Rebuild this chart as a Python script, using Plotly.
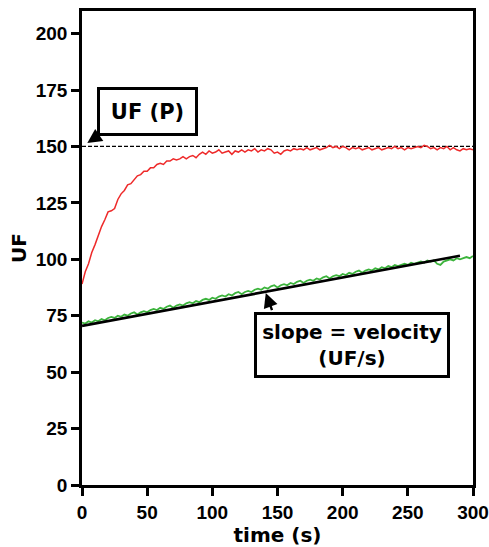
import plotly.graph_objects as go

# sample times (s)
time_s = [i * 2.5 for i in range(121)]

uf_red = [
    89.0, 94.5, 98.0, 103.0, 106.5, 111.0, 114.5, 117.5, 121.0, 121.5,
    122.5, 126.5, 129.0, 130.5, 133.0, 133.5, 135.5, 137.0, 137.5, 139.0,
    139.0, 140.5, 140.5, 142.0, 142.5, 142.0, 143.5, 143.5, 144.5, 144.0,
    144.5, 145.5, 144.5, 145.5, 146.0, 145.0, 146.5, 147.5, 146.5, 148.0,
    147.0, 147.5, 148.5, 147.0, 147.5, 148.0, 146.5, 148.0, 147.5, 148.5,
    147.5, 148.5, 148.0, 149.0, 147.5, 148.5, 148.0, 149.0, 148.5, 147.0,
    147.5, 146.5, 148.0, 148.5, 148.0, 149.0, 148.5, 149.0, 148.5, 149.5,
    148.5, 149.0, 149.5, 148.5, 149.0, 149.5, 150.5, 149.5, 150.0, 149.0,
    150.0, 149.5, 148.5, 149.5, 149.0, 149.5, 148.5, 149.0, 149.5, 148.5,
    149.0, 149.5, 148.5, 149.0, 149.5, 149.0, 150.0, 149.0, 149.5, 148.5,
    149.5, 149.0, 149.5, 150.0, 149.5, 150.5, 150.0, 149.0, 149.5, 148.5,
    149.5, 149.0, 150.0, 148.5, 149.5, 148.5, 148.0, 149.0, 148.5, 149.0,
    148.5,
]

uf_green = [
    72.0, 71.5, 72.5, 72.0, 73.0, 72.5, 73.5, 73.0, 74.0, 74.5,
    74.0, 75.0, 74.5, 75.5, 75.0, 76.0, 76.5, 75.5, 76.5, 77.0,
    76.5, 77.5, 78.0, 77.5, 78.5, 78.0, 79.0, 79.5, 78.5, 79.5,
    80.0, 79.5, 80.5, 81.0, 80.5, 81.5, 81.0, 82.0, 82.5, 82.0,
    83.0, 82.5, 83.5, 84.0, 83.5, 84.5, 84.0, 85.0, 85.5, 84.5,
    85.5, 86.0, 85.5, 86.5, 87.0, 86.5, 87.5, 87.0, 88.0, 88.5,
    87.5, 88.5, 89.0, 88.5, 89.5, 89.0, 90.0, 90.5, 89.5, 90.5,
    91.0, 90.5, 91.5, 91.0, 92.0, 92.5, 91.5, 92.5, 93.0, 92.5,
    93.5, 93.0, 94.0, 93.5, 94.5, 95.0, 94.0, 95.0, 95.5, 95.0,
    96.0, 95.5, 96.5, 96.0, 97.0, 96.5, 97.5, 97.0, 97.5, 98.0,
    97.5, 98.5, 98.0, 98.5, 99.0, 98.5, 99.5, 99.0, 99.5, 98.0,
    97.5, 99.0, 99.5, 100.0, 99.5, 100.5, 100.0, 100.5, 101.0, 100.5,
    101.5,
]

# initial-velocity fit line
fit_t = [0, 290]
fit_uf = [70.5, 101.6]

# plateau UF(P)
plateau_t = [0, 300]
plateau_uf = [150, 150]

x_ticks = [0, 50, 100, 150, 200, 250, 300]
y_ticks = [0, 25, 50, 75, 100, 125, 150, 175, 200]

fig = go.Figure()
fig.add_trace(go.Scatter(x=plateau_t, y=plateau_uf, mode="lines",
                         line=dict(color="black", width=1.2, dash="4px,2px")))
fig.add_trace(go.Scatter(x=time_s, y=uf_red, mode="lines",
                         line=dict(color="#ee2a2a", width=1.5)))
fig.add_trace(go.Scatter(x=time_s, y=uf_green, mode="lines",
                         line=dict(color="#3cb43c", width=1.8)))
fig.add_trace(go.Scatter(x=fit_t, y=fit_uf, mode="lines",
                         line=dict(color="black", width=2.6)))

tick_font = dict(family="Liberation Sans", size=19, color="black", weight="bold")
title_font = dict(family="DejaVu Sans", size=20, color="black", weight="bold")
ann_font = dict(family="DejaVu Sans", size=20, color="black", weight="bold")

fig.update_layout(
    width=489, height=547,
    margin=dict(l=82, r=16, t=11, b=62),
    paper_bgcolor="white", plot_bgcolor="white",
    showlegend=False,
    xaxis=dict(range=[0, 300], tickvals=x_ticks, ticks="outside", ticklen=8,
               tickwidth=2.5, tickcolor="black", showline=True, linewidth=2.5,
               linecolor="black", mirror=True, showgrid=False, zeroline=False,
               tickfont=tick_font, automargin=False,
               title=dict(text="time (s)", font=title_font, standoff=8)),
    yaxis=dict(range=[0, 210], tickvals=y_ticks, ticks="outside", ticklen=8,
               tickwidth=2.5, tickcolor="black", showline=True, linewidth=2.5,
               linecolor="black", mirror=True, showgrid=False, zeroline=False,
               tickfont=tick_font, automargin=False,
               title=dict(text="UF", font=title_font, standoff=4)),
)

# text boxes
fig.add_annotation(x=50.5, y=165.5, xref="x", yref="y", text="UF (P)",
                   showarrow=False, font=dict(family="DejaVu Sans", size=21, color="black", weight="bold"),
                   bordercolor="black", borderwidth=3, borderpad=0,
                   bgcolor="white", width=95, height=43, align="center")
fig.add_annotation(x=207.3, y=62.2, xref="x", yref="y",
                   text="slope = velocity<br>(UF/s)",
                   showarrow=False, font=ann_font,
                   bordercolor="black", borderwidth=3, borderpad=0,
                   bgcolor="white", width=190, height=60, align="center")

# arrows
fig.add_annotation(x=4.1, y=151.5, xref="x", yref="y", ax=12.5, ay=154.8,
                   axref="x", ayref="y", text="", showarrow=True,
                   arrowhead=2, arrowsize=1.2, arrowwidth=2.4, arrowcolor="black",
                   standoff=0, startstandoff=0)
fig.add_annotation(x=141, y=85.1, xref="x", yref="y", ax=146.2, ay=76.8,
                   axref="x", ayref="y", text="", showarrow=True,
                   arrowhead=2, arrowsize=1.2, arrowwidth=2.4, arrowcolor="black",
                   standoff=0, startstandoff=0)

fig.write_html("out.html", config={"displayModeBar": False},
               post_script="document.body.style.margin='0';")
